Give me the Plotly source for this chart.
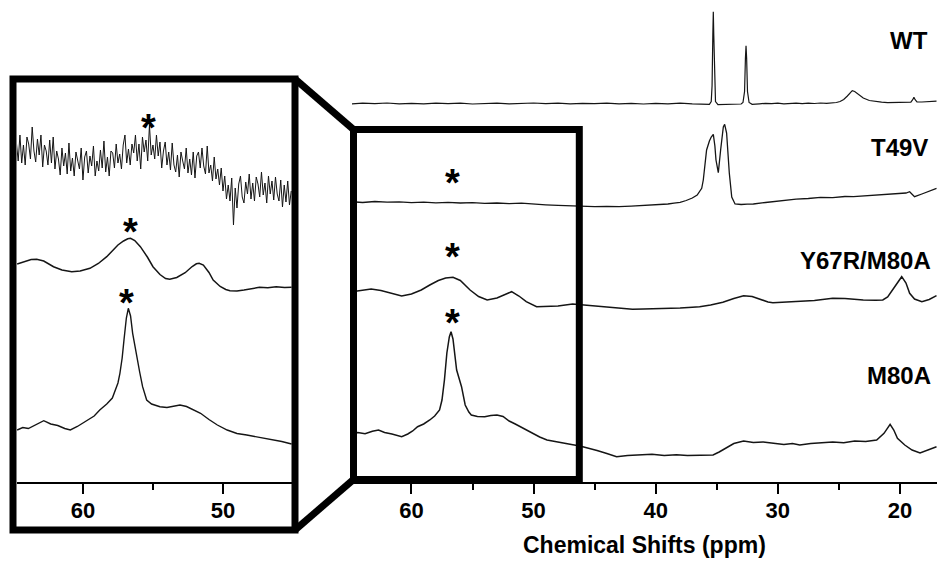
import plotly.graph_objects as go

W, H = 941, 569


def px(x):
    return x / W


def py(y):
    return 1 - y / H


# ---------------- data (chemical shift in ppm, intensity in arbitrary units) ----------------
wt_ppm = [64.9, 64.0, 63.0, 62.0, 61.0, 60.0, 59.0, 58.0, 57.0, 56.0, 55.0, 54.0, 53.0, 52.0, 51.0,
          50.0, 49.0, 48.0, 47.0, 46.0, 45.0, 44.0, 43.0, 42.0, 41.0, 40.0, 39.0, 38.0, 37.0, 36.0,
          35.6, 35.45, 35.38, 35.32, 35.28, 35.24, 35.18, 35.1, 34.9, 34.5, 34.0, 33.5, 33.0,
          32.85, 32.72, 32.65, 32.6, 32.55, 32.48, 32.35, 32.1, 31.5, 31.0, 30.5, 30.0, 29.5, 29.0,
          28.5, 28.0, 27.5, 27.0, 26.5, 26.0, 25.5, 25.2, 24.9, 24.6, 24.3, 24.1, 23.9, 23.7, 23.4,
          23.0, 22.5, 22.0, 21.5, 21.0, 20.5, 20.0, 19.5, 19.1, 18.95, 18.85, 18.75, 18.6, 18.2,
          17.7, 17.0]
wt_int = [-0.5, 0.3, -0.2, 0.5, -0.3, 0.2, -0.4, 0.4, -0.2, 0.3, -0.5, 0.2, 0.4, -0.3, 0.1,
          0.5, -0.2, 0.3, -0.4, 0.2, -0.1, 0.4, -0.3, 0.2, -0.5, 0.1, -0.3, 0.3, -0.4, -0.6,
          -0.8, 2.0, 18.0, 68.0, 91.8, 68.0, 18.0, 2.0, -1.2, -1.0, -0.5, -0.3, -0.5,
          1.0, 12.0, 45.0, 57.8, 45.0, 12.0, 1.0, -0.8, -0.3, 0.2, -0.2, 0.3, -0.4, 0.1,
          0.4, -0.2, 0.3, 0.0, 0.5, 0.2, 0.6, 1.0, 2.0, 4.0, 7.5, 10.5, 12.8, 12.0, 9.0,
          5.5, 3.0, 2.0, 1.3, 0.8, 0.9, 1.2, 1.0, 1.4, 3.8, 6.2, 3.8, 1.6, 1.5,
          1.8, 2.4]

t49v_ppm = [64.9, 64.0, 63.0, 62.0, 61.0, 60.0, 59.0, 58.0, 57.0, 56.0, 55.0, 54.0, 53.0, 52.0,
            51.0, 50.0, 49.0, 48.0, 47.0, 46.0, 45.0, 44.0, 43.0, 42.0, 41.0, 40.0, 39.0, 38.5,
            38.0, 37.5, 37.0, 36.6, 36.23, 36.1, 35.83, 35.6, 35.45, 35.28, 35.15, 35.06, 34.87,
            34.68, 34.46, 34.35, 34.19, 33.97, 33.77, 33.5, 33.0, 32.5, 32.0, 31.0, 30.0, 29.27,
            28.5, 27.5, 26.5, 25.5, 24.5, 23.8, 23.0, 22.0, 21.1, 20.5, 20.0, 19.5, 19.2, 18.8,
            18.2, 17.6, 17.0]
t49v_int = [4.3, 3.5, 4.5, 3.8, 4.2, 3.4, 3.9, 3.2, 3.6, 3.0, 3.4, 2.6, 3.0, 2.4,
            2.8, 1.8, 1.2, 0.6, 0.2, -0.4, -0.6, -0.3, -0.7, -0.2, 0.5, 0.8, 2.0, 2.8,
            3.6, 5.5, 8.0, 11.0, 17.7, 26.0, 56.0, 65.0, 69.0, 71.7, 60.0, 46.0, 33.3,
            56.0, 79.0, 81.7, 73.0, 33.0, 9.0, 2.0, 1.5, 1.8, 2.0, 3.5, 5.0, 6.0,
            6.8, 7.5, 8.7, 8.4, 9.5, 9.3, 10.0, 10.5, 11.0, 11.5, 12.0, 13.0, 14.3, 9.3,
            12.0, 15.0, 17.7]

y67r_ppm = [64.9, 64.2, 63.3, 62.5, 61.6, 60.8, 60.0, 59.2, 58.5, 57.8, 57.2, 56.6, 56.0, 55.2,
            54.5, 53.8, 53.0, 52.3, 51.8, 51.2, 50.6, 49.75, 48.9, 48.0, 46.8, 45.5, 44.6, 43.5,
            42.5, 41.9, 41.0, 40.0, 39.0, 38.0, 37.0, 36.4, 35.5, 34.5, 33.6, 32.8, 32.1, 31.5,
            30.8, 30.4, 29.5, 28.5, 28.0, 27.0, 26.0, 25.5, 24.5, 23.5, 23.0, 22.0, 21.4, 21.0,
            20.6, 20.2, 19.85, 19.5, 19.2, 18.8, 18.2, 17.6, 17.0]
y67r_int = [13.3, 14.8, 16.0, 14.5, 11.5, 9.0, 11.0, 15.0, 20.0, 24.5, 27.0, 27.7, 24.5, 15.0,
            8.5, 5.0, 7.0, 11.0, 13.3, 9.0, 3.3, -1.7, -1.5, -1.0, 1.0, -0.5, -1.7, -2.5,
            -3.5, -4.3, -4.0, -3.8, -3.3, -3.0, -2.2, -1.7, 0.0, 2.7, 6.5, 9.3, 8.5, 6.0,
            3.0, 2.3, 2.8, 3.0, 3.3, 4.5, 6.0, 6.7, 6.5, 5.5, 5.0, 4.8, 5.0, 8.0,
            15.0, 23.0, 28.3, 22.0, 11.7, 6.0, 3.3, 5.5, 9.3]

m80a_ppm = [64.9, 64.4, 63.8, 63.2, 62.7, 62.2, 61.6, 61.2, 60.8, 60.3, 59.9, 59.5, 59.0, 58.5,
            58.1, 57.7, 57.5, 57.3, 57.1, 56.9, 56.76, 56.6, 56.45, 56.3, 55.9, 55.6, 55.3, 55.1,
            54.6, 54.0, 53.5, 53.0, 52.5, 52.0, 51.5, 51.1, 50.5, 50.0, 49.5, 48.9, 48.3, 47.6,
            46.9, 46.2, 45.5, 44.8, 44.0, 43.2, 42.3, 41.3, 40.3, 39.3, 38.3, 37.4, 36.5, 35.3,
            34.8, 34.3, 33.6, 32.8, 32.0, 31.2, 30.5, 29.5, 28.8, 28.2, 27.3, 26.5, 25.5, 24.6,
            23.7, 22.8, 21.9, 21.3, 20.8, 20.5, 20.2, 19.6, 19.0, 18.35, 17.7, 17.0]
m80a_int = [11.0, 12.5, 11.2, 13.8, 15.0, 12.5, 11.0, 9.3, 8.3, 11.0, 14.0, 18.3, 21.0, 25.0,
            29.0, 35.0, 45.0, 65.0, 92.0, 108.0, 113.3, 106.0, 88.0, 75.0, 58.3, 40.0, 33.0, 30.0,
            28.5, 28.3, 29.5, 30.0, 28.5, 24.0, 21.0, 18.3, 14.0, 11.0, 8.0, 5.0, 3.5, 1.5,
            0.5, -1.0, -3.0, -5.5, -8.5, -11.7, -10.5, -10.0, -9.3, -10.5, -9.8, -10.5, -10.0, -10.0,
            -7.0, -3.3, 1.5, 4.0, 2.5, 3.0, 1.7, 0.5, 1.5, 0.0, 1.5, 2.0, 3.0, 2.2,
            4.0, 3.5, 5.0, 11.7, 20.7, 15.0, 6.7, 0.0, -5.0, -8.0, -5.0, -1.7]

# expanded view (inset), 65-45 ppm
ins_t49v_ppm = [64.75, 64.625, 64.5, 64.375, 64.25, 64.125, 64.0, 63.875, 63.75, 63.625,
                63.5, 63.375, 63.25, 63.125, 63.0, 62.875, 62.75, 62.625, 62.5, 62.375,
                62.25, 62.125, 62.0, 61.875, 61.75, 61.625, 61.5, 61.375, 61.25, 61.125,
                61.0, 60.875, 60.75, 60.625, 60.5, 60.375, 60.25, 60.125, 60.0, 59.875,
                59.75, 59.625, 59.5, 59.375, 59.25, 59.125, 59.0, 58.875, 58.75, 58.625,
                58.5, 58.375, 58.25, 58.125, 58.0, 57.875, 57.75, 57.625, 57.5, 57.375,
                57.25, 57.125, 57.0, 56.875, 56.75, 56.625, 56.5, 56.375, 56.25, 56.125,
                56.0, 55.875, 55.75, 55.625, 55.5, 55.375, 55.25, 55.125, 55.0, 54.875,
                54.75, 54.625, 54.5, 54.375, 54.25, 54.125, 54.0, 53.875, 53.75, 53.625,
                53.5, 53.375, 53.25, 53.125, 53.0, 52.875, 52.75, 52.625, 52.5, 52.375,
                52.25, 52.125, 52.0, 51.875, 51.75, 51.625, 51.5, 51.375, 51.25, 51.125,
                51.0, 50.875, 50.75, 50.625, 50.5, 50.375, 50.25, 50.125, 50.0, 49.875,
                49.75, 49.625, 49.5, 49.375, 49.25, 49.125, 49.0, 48.875, 48.75, 48.625,
                48.5, 48.375, 48.25, 48.125, 48.0, 47.875, 47.75, 47.625, 47.5, 47.375,
                47.25, 47.125, 47.0, 46.875, 46.75, 46.625, 46.5, 46.375, 46.25, 46.125,
                46.0, 45.875, 45.75, 45.625, 45.5, 45.375, 45.25, 45.125]
ins_t49v_int = [32, 14, 40, 12, 30, 10, 38, 31, 16, 48,
                24, 13, 36, 20, 40, 8, 30, 24, 10, 35,
                12, 38, 6, 24, 16, 0, 27, 9, 22, 1,
                32, 4, 17, -1, 23, 15, 6, 27, -5, 18,
                24, 2, 19, 9, 29, -1, 14, 4, 25, 7,
                34, 3, 18, -1, 24, 22, 7, 31, 12, 21,
                6, 30, 40, 12, 26, 10, 31, 22, 40, 14,
                31, 6, 38, 23, 35, 14, 50, 20, 30, 16,
                40, 19, 33, 7, 24, 33, 10, 23, 5, 32,
                10, 3, 20, -2, 23, 14, 6, 27, 2, 16,
                0, 23, -3, 19, 23, 7, 27, 9, 1, 29,
                2, 10, -6, 18, -4, 6, -10, 7, -16, -1,
                -24, -10, -26, -3, -50, -13, -33, -9, -1, -22,
                -28, -7, -19, 1, -24, -8, -26, -2, -9, -22,
                3, -20, -8, -28, -1, -19, -6, -25, -2, -19,
                -26, -5, -32, -10, -27, -6, -30, -16]

ins_y67r_ppm = [64.7, 64.2, 63.7, 63.3, 62.8, 62.1, 61.5, 60.8, 60.2, 59.5, 58.9, 58.3, 57.9,
                57.5, 57.1, 56.8, 56.6, 56.3, 55.9, 55.4, 55.0, 54.5, 54.1, 53.8, 53.3, 52.7,
                52.2, 51.9, 51.7, 51.4, 51.0, 50.7, 50.2, 49.8, 49.5, 49.0, 48.5, 48.0, 47.4,
                46.8, 46.2, 45.6, 45.1]
ins_y67r_int = [21.0, 23.5, 25.5, 25.7, 24.0, 18.3, 15.0, 13.3, 14.0, 16.7, 21.5, 28.3, 34.0,
                40.0, 44.0, 46.2, 46.7, 44.5, 38.3, 28.0, 18.3, 10.5, 6.5, 5.7, 7.5, 12.3,
                18.5, 21.2, 21.7, 20.0, 12.5, 5.0, -1.5, -4.5, -5.7, -6.0, -5.0, -4.0, -2.3,
                -2.8, -1.8, -2.5, -2.3]

ins_m80a_ppm = [64.7, 64.3, 63.9, 63.4, 62.8, 62.3, 61.8, 61.3, 60.9, 60.4, 59.7, 59.2, 58.8,
                58.3, 57.9, 57.7, 57.5, 57.36, 57.2, 57.07, 56.9, 56.76, 56.6, 56.45, 56.3, 56.16,
                55.95, 55.74, 55.45, 55.1, 54.5, 54.0, 53.5, 53.07, 52.6, 52.1, 51.6, 51.0, 50.4,
                49.7, 49.0, 48.3, 47.4, 46.6, 45.8, 45.1]
ins_m80a_int = [0.0, 2.5, 1.5, 5.0, 9.3, 6.0, 4.5, 1.5, 0.0, 3.5, 10.0, 14.0, 20.0,
                26.0, 32.0, 40.0, 47.0, 56.7, 72.0, 90.0, 112.0, 121.7, 114.0, 96.7, 84.0, 73.3,
                58.0, 43.3, 30.0, 26.0, 23.3, 22.5, 24.0, 25.0, 23.5, 20.0, 16.7, 10.5, 5.0,
                0.0, -3.5, -5.0, -7.3, -9.5, -11.5, -14.0]

labels = ["WT", "T49V", "Y67R/M80A", "M80A"]
tick_main = [60, 50, 40, 30, 20]
tick_main_minor = [55, 45, 35, 25]
tick_inset = [60, 50]
tick_inset_minor = [55]
axis_title = "Chemical Shifts (ppm)"
star_main_ppm = [56.65, 56.65, 56.65]
star_inset_ppm = [55.3, 56.6, 56.9]

# ---------------- figure ----------------
FONT = "Liberation Sans, Arial, sans-serif"
INK = "#151515"

main_offsets = [378.5, 276.0, 177.0, 37.0]
main_sets = [(wt_ppm, wt_int), (t49v_ppm, t49v_int), (y67r_ppm, y67r_int), (m80a_ppm, m80a_int)]
main_widths = [1.2, 1.3, 1.5, 1.5]
fig = go.Figure()
for (xs, ys), off, lw in zip(main_sets, main_offsets, main_widths):
    fig.add_trace(go.Scatter(x=xs, y=[v + off for v in ys], mode="lines",
                             line=dict(color=INK, width=lw),
                             xaxis="x", yaxis="y", hoverinfo="skip"))

inset_offsets = [307.0, 197.0, 52.0]
inset_sets = [(ins_t49v_ppm, ins_t49v_int), (ins_y67r_ppm, ins_y67r_int), (ins_m80a_ppm, ins_m80a_int)]
inset_widths = [1.0, 1.5, 1.4]
for (xs, ys), off, lw in zip(inset_sets, inset_offsets, inset_widths):
    fig.add_trace(go.Scatter(x=xs, y=[v + off for v in ys], mode="lines",
                             line=dict(color=INK, width=lw),
                             xaxis="x2", yaxis="y2", hoverinfo="skip"))

tickfont = dict(family=FONT, size=22, color="black", weight="bold")
common_x = dict(showline=True, linecolor="black", ticks="outside", tickcolor="black",
                tickwidth=2, ticklen=10, showgrid=False, zeroline=False, tickfont=tickfont,
                tickmode="array", ticklabelstandoff=-2)

fig.update_layout(
    width=W, height=H, margin=dict(l=0, r=0, t=0, b=0),
    paper_bgcolor="white", plot_bgcolor="white", showlegend=False,
    xaxis=dict(domain=[px(352), px(937)], range=[64.87, 16.96], anchor="y", linewidth=2,
               tickvals=tick_main, ticktext=[str(t) for t in tick_main],
               minor=dict(tickmode="array", tickvals=tick_main_minor, ticks="outside",
                          ticklen=6, tickwidth=2, tickcolor="black", showgrid=False),
               **common_x),
    yaxis=dict(domain=[py(482), 1], range=[0, 482], visible=False, anchor="x"),
    xaxis2=dict(domain=[px(17), px(292)], range=[64.71, 45.07], anchor="y2", linewidth=2,
                tickvals=tick_inset, ticktext=[str(t) for t in tick_inset],
                minor=dict(tickmode="array", tickvals=tick_inset_minor, ticks="outside",
                           ticklen=6, tickwidth=2, tickcolor="black", showgrid=False),
                **common_x),
    yaxis2=dict(domain=[py(482), 1], range=[0, 482], visible=False, anchor="x2"),
)

BW = 7
shapes = [
    dict(type="rect", xref="paper", yref="paper", x0=px(13), x1=px(295), y0=py(530), y1=py(79),
         line=dict(color="black", width=BW), layer="above"),
    dict(type="rect", xref="paper", yref="paper", x0=px(353.5), x1=px(579.3), y0=py(479.5),
         y1=py(129.5), line=dict(color="black", width=BW), layer="above"),
    dict(type="line", xref="paper", yref="paper", x0=px(295), y0=py(79), x1=px(353.5),
         y1=py(129.5), line=dict(color="black", width=BW), layer="above"),
    dict(type="line", xref="paper", yref="paper", x0=px(295), y0=py(530), x1=px(353.5),
         y1=py(479.5), line=dict(color="black", width=BW), layer="above"),
]
fig.update_layout(shapes=shapes)

ann = []
label_pos = [(930, 40), (930, 147), (933, 260), (933, 375)]
for txt, (x, y) in zip(labels, label_pos):
    ann.append(dict(text=txt, xref="paper", yref="paper", x=px(x), y=py(y), xanchor="right",
                    yanchor="middle", showarrow=False,
                    font=dict(family=FONT, size=24, color="black", weight="bold")))
ann.append(dict(text=axis_title, xref="paper", yref="paper", x=px(644), y=py(545),
                xanchor="center", yanchor="middle", showarrow=False,
                font=dict(family=FONT, size=23, color="black", weight="bold")))

star_font = dict(family=FONT, size=38, color="black", weight="bold")
for xv, yp in zip(star_main_ppm, [177.3, 251.0, 317.3]):
    ann.append(dict(text="*", xref="x", yref="y", x=xv, y=482 - yp, xanchor="center",
                    yanchor="middle", showarrow=False, font=star_font, yshift=-6))
for xv, yp in zip(star_inset_ppm, [122.3, 225.7, 297.3]):
    ann.append(dict(text="*", xref="x2", yref="y2", x=xv, y=482 - yp, xanchor="center",
                    yanchor="middle", showarrow=False, font=star_font, yshift=-6))
fig.update_layout(annotations=ann)

fig.write_html(
    "out.html",
    config={"displayModeBar": False},
    post_script="document.body.style.margin='0';document.documentElement.style.overflow='hidden';",
)
